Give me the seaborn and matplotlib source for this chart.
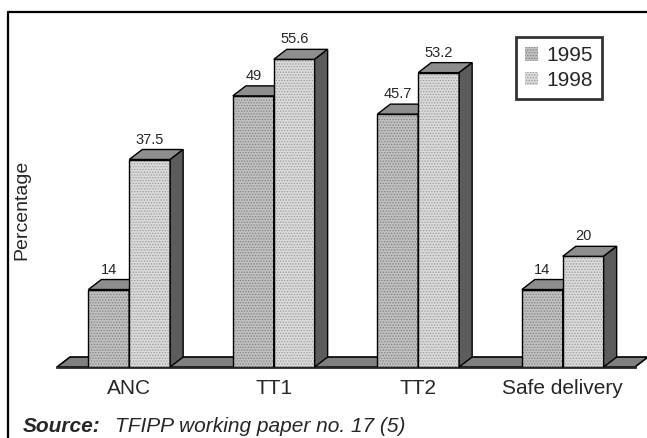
import matplotlib
matplotlib.use('Agg')
import matplotlib.pyplot as plt
import matplotlib.patches as mpatches
from matplotlib.lines import Line2D
import pandas as pd
import seaborn as sns

categories = ['ANC', 'TT1', 'TT2', 'Safe delivery']
years = ['1995', '1998']
values_1995 = [14, 49, 45.7, 14]
values_1998 = [37.5, 55.6, 53.2, 20]

front_colors = {'1995': '#c0c0c0', '1998': '#dadada'}
hatch_colors = {'1995': '#808080', '1998': '#9a9a9a'}
top_color = '#8e8e8e'
side_color = '#5c5c5c'

df = pd.DataFrame({
    'category': categories * 2,
    'year': [years[0]] * len(categories) + [years[1]] * len(categories),
    'value': values_1995 + values_1998,
})

sns.set_style('white')
plt.rcParams['font.family'] = ['Liberation Sans', 'DejaVu Sans']
plt.rcParams['hatch.linewidth'] = 0.6

W, H = 647, 438
fig = plt.figure(figsize=(W / 100, H / 100), dpi=100)
ax = fig.add_axes([57 / W, (H - 367) / H, 578 / W, 332 / H])

sns.barplot(data=df, x='category', y='value', hue='year', order=categories,
            hue_order=years, width=0.566, errorbar=None, legend=False, ax=ax)

ax.set_xlim(-0.5, 3.5)
ax.set_ylim(0, 60)

# depth of the 3D effect, pixels -> data units
dx = 13 * 4 / 578
dy = 10 * 60 / 332

# floor
floor = mpatches.Polygon([(-0.5, 0), (3.5, 0), (3.5 + dx, dy), (-0.5 + dx, dy)],
                         closed=True, facecolor='#808080', edgecolor='black',
                         lw=1.2, zorder=1, clip_on=False)
ax.add_patch(floor)

for k, (year, vals) in enumerate(zip(years, [values_1995, values_1998])):
    z = 3 + k
    for bar, v in zip(ax.containers[k], vals):
        x0, w, h = bar.get_x(), bar.get_width(), bar.get_height()
        bar.set_facecolor(front_colors[year])
        bar.set_edgecolor(hatch_colors[year])
        bar.set_hatch('......')
        bar.set_linewidth(0)
        bar.set_zorder(z)
        ax.add_patch(mpatches.Rectangle((x0, 0), w, h, fill=False,
                                        edgecolor='black', lw=1, zorder=z))
        top = mpatches.Polygon([(x0, h), (x0 + w, h), (x0 + w + dx, h + dy), (x0 + dx, h + dy)],
                               closed=True, facecolor=top_color, edgecolor='black',
                               lw=1, zorder=z, clip_on=False)
        side = mpatches.Polygon([(x0 + w, 0), (x0 + w + dx, dy), (x0 + w + dx, h + dy), (x0 + w, h)],
                                closed=True, facecolor=side_color, edgecolor='black',
                                lw=1, zorder=z, clip_on=False)
        ax.add_patch(top)
        ax.add_patch(side)
        ax.annotate(f'{v:g}', xy=(x0 + w / 2, h), xytext=(0, 13),
                    textcoords='offset pixels', ha='center', va='bottom',
                    fontsize=10.5, zorder=6)

# axes styling
for s in ['left', 'top', 'right']:
    ax.spines[s].set_visible(False)
ax.spines['bottom'].set_linewidth(2)
ax.spines['bottom'].set_zorder(2)
ax.set_yticks([])
ax.set_xlabel('')
ax.set_ylabel('')
ax.set_xticks(range(len(categories)), categories)
ax.set_xticks([-0.5, 0.5, 1.5, 2.5, 3.5], minor=True)
ax.tick_params(axis='x', which='major', length=0, pad=9, labelsize=15)
ax.tick_params(axis='x', which='minor', length=5, width=1.5, direction='out', color='black')
ax.patch.set_alpha(0)

handles = [mpatches.Patch(facecolor=front_colors[y], edgecolor=hatch_colors[y], hatch='......',
                          lw=0, label=y) for y in years]
leg = fig.legend(handles=handles, loc='upper left', bbox_to_anchor=(516 / W, 1 - 37 / H),
                 borderaxespad=0, fontsize=15, frameon=True, fancybox=False,
                 handlelength=0.6, handleheight=0.6, handletextpad=0.4,
                 borderpad=0.45, labelspacing=0.25)
leg.get_frame().set_edgecolor('black')
leg.get_frame().set_linewidth(2)

fig.text(22 / W, 1 - 210 / H, 'Percentage', rotation=90, ha='center', va='center', fontsize=14)
fig.text(23 / W, 1 - 426 / H, 'Source:', fontweight='bold', style='italic', va='center', fontsize=15)
fig.text(115 / W, 1 - 426 / H, 'TFIPP working paper no. 17 (5)', style='italic', va='center', fontsize=15)

# outer frame (left and top edges)
fig.add_artist(Line2D([8 / W, 8 / W], [0, 1 - 12 / H], color='black', lw=1.6))
fig.add_artist(Line2D([8 / W, 1], [1 - 12 / H, 1 - 12 / H], color='black', lw=1.6))

fig.savefig('out.png', dpi=100)
